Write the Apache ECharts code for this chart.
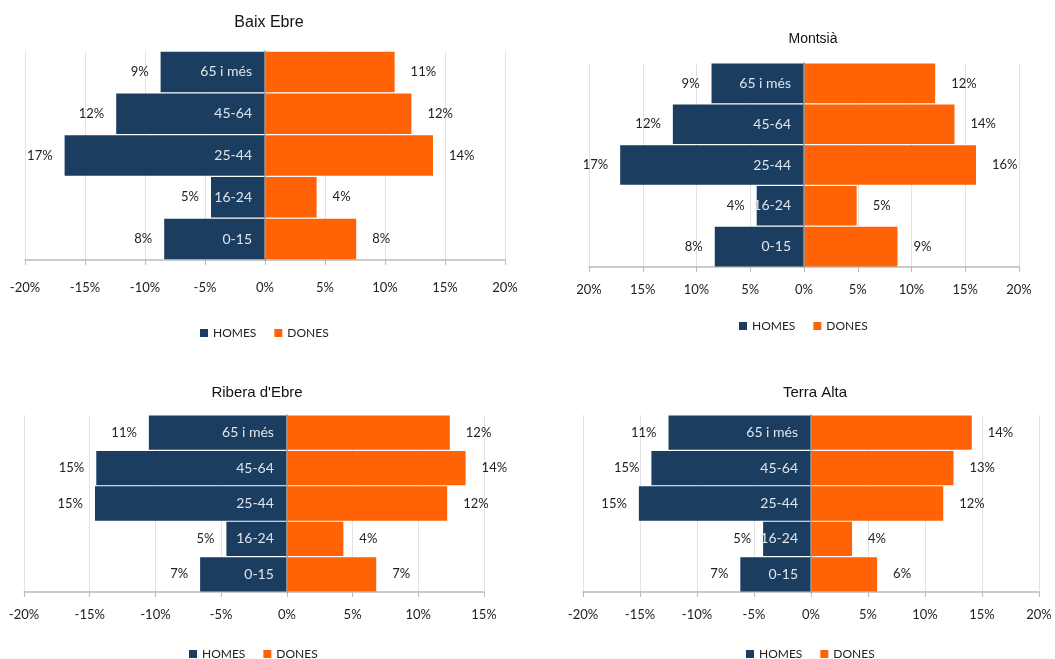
<!DOCTYPE html>
<html>
<head>
<meta charset="utf-8">
<script src="https://cdn.jsdelivr.net/npm/echarts@6/dist/echarts.min.js"></script>
<style>
  html, body { margin: 0; padding: 0; background: #fff; }
  #chart { width: 1055px; height: 659px; }
</style>
</head>
<body>
<div id="chart"></div>
<script>
// age groups, bottom to top
var ages = ['0-15', '16-24', '25-44', '45-64', '65 i més'];
var titles = ['Baix Ebre', 'Montsià', "Ribera d'Ebre", 'Terra Alta'];

// bar lengths (% of population)
var baixHomes = [8.4, 4.5, 16.7, 12.4, 8.7];
var baixDones = [7.6, 4.3, 14.0, 12.2, 10.8];
var montHomes = [8.3, 4.4, 17.1, 12.2, 8.6];
var montDones = [8.7, 4.9, 16.0, 14.0, 12.2];
var ribHomes = [6.6, 4.6, 14.6, 14.5, 10.5];
var ribDones = [6.8, 4.3, 12.2, 13.6, 12.4];
var terraHomes = [6.2, 4.2, 15.1, 14.0, 12.5];
var terraDones = [5.8, 3.6, 11.6, 12.5, 14.1];

// data labels as printed on the chart
var baixHomesLbl = [8, 5, 17, 12, 9];
var baixDonesLbl = [8, 4, 14, 12, 11];
var montHomesLbl = [8, 4, 17, 12, 9];
var montDonesLbl = [9, 5, 16, 14, 12];
var ribHomesLbl = [7, 5, 15, 15, 11];
var ribDonesLbl = [7, 4, 12, 14, 12];
var terraHomesLbl = [7, 5, 15, 15, 11];
var terraDonesLbl = [6, 4, 12, 13, 14];

// x axis range per chart
var axisMin = [-20, -20, -20, -20];
var axisMax = [20, 20, 15, 20];

var panels = [
  { homes: baixHomes, dones: baixDones, hl: baixHomesLbl, dl: baixDonesLbl,
    grid: { left: 25, top: 51, width: 480, height: 209 }, title: [264, 10, 16], legend: 322, xm: 21, abs: false },
  { homes: montHomes, dones: montDones, hl: montHomesLbl, dl: montDonesLbl,
    grid: { left: 589, top: 63, width: 430, height: 204 }, title: [808, 27, 14], legend: 315, xm: 16, abs: true },
  { homes: ribHomes, dones: ribDones, hl: ribHomesLbl, dl: ribDonesLbl,
    grid: { left: 24, top: 415, width: 460, height: 177 }, title: [252, 380, 15], legend: 643, xm: 16, abs: false },
  { homes: terraHomes, dones: terraDones, hl: terraHomesLbl, dl: terraDonesLbl,
    grid: { left: 583, top: 415, width: 456, height: 177 }, title: [810, 380, 15], legend: 643, xm: 16, abs: false }
];

var navy = '#1a3d60';
var orange = '#ff6305';
var font = 'Lato, "Open Sans", sans-serif';

var option = {
  animation: false,
  title: [], legend: [], grid: [], xAxis: [], yAxis: [], series: []
};

panels.forEach(function (p, i) {
  var g = p.grid;
  // shift the category axis from the grid's left edge to the 0% line
  var zeroShift = (0 - axisMin[i]) / (axisMax[i] - axisMin[i]) * g.width;

  option.title.push({
    text: titles[i], left: p.title[0], top: p.title[1], textAlign: 'center',
    textStyle: { fontFamily: 'Liberation Sans, Arial', fontSize: p.title[2], fontWeight: 'normal', color: '#111' }
  });
  option.legend.push({
    data: ['HOMES', 'DONES'], left: g.left + g.width / 2 - 70, top: p.legend,
    icon: 'rect', itemWidth: 8, itemHeight: 8, itemGap: 18,
    textStyle: { fontFamily: font, fontSize: 12, color: '#222' }
  });
  option.grid.push({
    left: g.left, top: g.top, width: g.width, height: g.height,
    containLabel: false, outerBoundsMode: 'none'
  });
  option.xAxis.push({
    type: 'value', gridIndex: i, min: axisMin[i], max: axisMax[i], interval: 5,
    axisLine: { show: true, onZero: false, lineStyle: { color: '#bbb', width: 1.5 } },
    axisTick: { show: true, length: 5, lineStyle: { color: '#bbb' } },
    splitLine: { show: true, lineStyle: { color: '#e2e2e2' } },
    axisLabel: {
      fontFamily: font, fontSize: 13, color: '#222', margin: p.xm,
      formatter: p.abs ? function (v) { return Math.abs(v) + '%'; } : function (v) { return v + '%'; }
    }
  });
  option.yAxis.push({
    type: 'category', gridIndex: i, data: ages, position: 'left', offset: -zeroShift, z: 10,
    axisLine: { onZero: false, lineStyle: { color: '#9a9a9a', width: 1.5 } },
    axisTick: { show: false },
    axisLabel: { fontFamily: font, fontSize: 14, color: '#dfe5ec', margin: 13 }
  });
  option.series.push({
    name: 'HOMES', type: 'bar', xAxisIndex: i, yAxisIndex: i, stack: 'p' + i,
    barCategoryGap: '3%', itemStyle: { color: navy },
    data: p.homes.map(function (v) { return -v; }),
    label: {
      show: true, position: 'left', distance: 12, fontFamily: font, fontSize: 13, color: '#222',
      formatter: function (d) { return p.hl[d.dataIndex] + '%'; }
    }
  });
  option.series.push({
    name: 'DONES', type: 'bar', xAxisIndex: i, yAxisIndex: i, stack: 'p' + i,
    barCategoryGap: '3%', itemStyle: { color: orange },
    data: p.dones,
    label: {
      show: true, position: 'right', distance: 16, fontFamily: font, fontSize: 13, color: '#222',
      formatter: function (d) { return p.dl[d.dataIndex] + '%'; }
    }
  });
});

var chart = echarts.init(document.getElementById('chart'));
chart.setOption(option);
</script>
</body>
</html>
